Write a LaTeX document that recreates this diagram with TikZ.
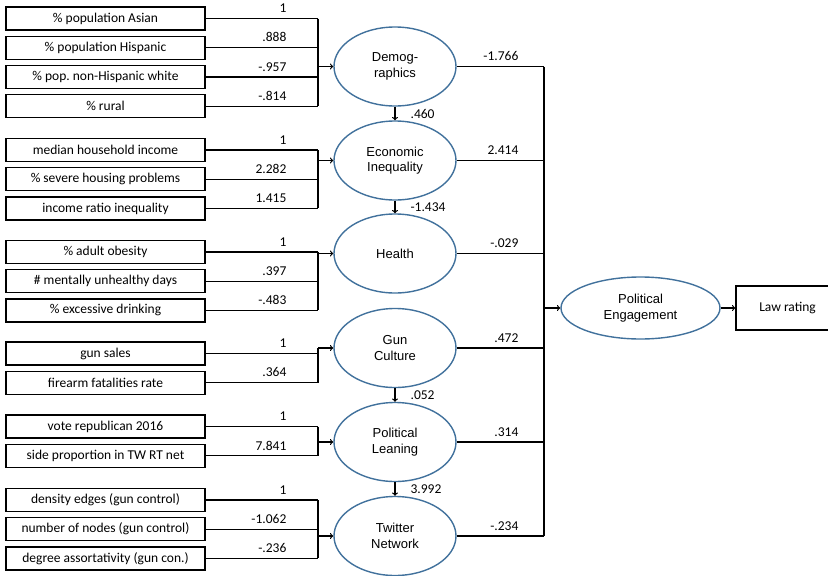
\documentclass[tikz,border=0pt]{standalone}
\usepackage{fontspec}
\newfontfamily\boxfont{Carlito}
\newfontfamily\latfont{Liberation Sans}
\usetikzlibrary{positioning}
\usetikzlibrary{shapes}
\definecolor{latblue}{RGB}{65,113,156}
\frenchspacing

\begin{document}
\begin{tikzpicture}[x=1pt, y=-1pt, line width=1.2pt,
  ind/.style={draw, rectangle, minimum width=199pt, minimum height=23pt, inner sep=0pt, font=\boxfont\fontsize{13.5}{16}\selectfont},
  lat/.style={draw=latblue, line width=1.4pt, ellipse, minimum width=122pt, minimum height=79pt, inner sep=0pt, align=center, font=\latfont\fontsize{13}{15.7}\selectfont},
  lw/.style={anchor=south east, inner sep=0pt, xshift=-31pt, yshift=5pt, font=\boxfont\fontsize{13.5}{16}\selectfont},
  rw/.style={lw, xshift=6pt},
  reg/.style={anchor=west, inner sep=0pt, xshift=15pt, font=\boxfont\fontsize{13.5}{16}\selectfont}]
\useasboundingbox (0,0) rectangle (828,576);
\coordinate (colL) at (318,0);
\coordinate (colR) at (544,0);

% indicators
\node[ind] (Dem1) at (105.5,18.5) {\% population Asian};
\node[ind] (Dem2) [below=5pt of Dem1] {\% population Hispanic};
\node[ind] (Dem3) [below=5pt of Dem2] {\% pop. non-Hispanic white};
\node[ind] (Dem4) [below=5pt of Dem3] {\% rural};
\node[ind] (Eco1) at (105.5,150) {median household income};
\node[ind] (Eco2) [below=5pt of Eco1] {\% severe housing problems};
\node[ind] (Eco3) [below=5pt of Eco2] {income ratio inequality};
\node[ind] (Hlth1) at (105.5,252) {\% adult obesity};
\node[ind] (Hlth2) [below=5pt of Hlth1] {\# mentally unhealthy days};
\node[ind] (Hlth3) [below=5pt of Hlth2] {\% excessive drinking};
\node[ind] (Gun1) at (105.5,353.5) {gun sales};
\node[ind] (Gun2) [below=5pt of Gun1] {firearm fatalities rate};
\node[ind] (PolL1) at (105.5,426.5) {vote republican 2016};
\node[ind] (PolL2) [below=5pt of PolL1] {side proportion in TW RT net};
\node[ind] (TW1) at (105.5,500) {density edges (gun control)};
\node[ind] (TW2) [below=5pt of TW1] {number of nodes (gun control)};
\node[ind] (TW3) [below=5pt of TW2] {degree assortativity (gun con.)};

% latent variables
\node[lat] (Dem) at (395,66.5) {Demog-\\raphics};
\node[lat] (Eco) at (395,160.5) {Economic\\Inequality};
\node[lat] (Hlth) at (395,253.5) {Health};
\node[lat] (Gun) at (395,348) {Gun\\Culture};
\node[lat] (PolL) at (395,442) {Political\\Leaning};
\node[lat] (TW) at (395,536) {Twitter\\Network};
\node[lat, minimum width=159pt, minimum height=62pt] (PE) at (640.5,308) {Political\\Engagement};
\node[draw, rectangle, minimum width=103pt, minimum height=44pt, font=\boxfont\fontsize{13.5}{16}\selectfont] (LR) at (787.5,308) {Law rating};

% loadings
\draw (Dem1.east) -- (Dem1.east -| colL) node[lw, pos=1] {1};
\draw (Dem2.east) -- (Dem2.east -| colL) node[lw, pos=1] {.888};
\draw (Dem3.east) -- (Dem3.east -| colL) node[lw, pos=1] {-.957};
\draw (Dem4.east) -- (Dem4.east -| colL) node[lw, pos=1] {-.814};
\draw (Dem1.east -| colL) -- (Dem4.east -| colL);
\draw[->] (Dem.west -| colL) -- (Dem.west);

\draw (Eco1.east) -- (Eco1.east -| colL) node[lw, pos=1] {1};
\draw (Eco2.east) -- (Eco2.east -| colL) node[lw, pos=1] {2.282};
\draw (Eco3.east) -- (Eco3.east -| colL) node[lw, pos=1] {1.415};
\draw (Eco1.east -| colL) -- (Eco3.east -| colL);
\draw[->] (Eco.west -| colL) -- (Eco.west);

\draw (Hlth1.east) -- (Hlth1.east -| colL) node[lw, pos=1] {1};
\draw (Hlth2.east) -- (Hlth2.east -| colL) node[lw, pos=1] {.397};
\draw (Hlth3.east) -- (Hlth3.east -| colL) node[lw, pos=1] {-.483};
\draw (Hlth1.east -| colL) -- (Hlth3.east -| colL);
\draw[->] (Hlth.west -| colL) -- (Hlth.west);

\draw (Gun1.east) -- (Gun1.east -| colL) node[lw, pos=1] {1};
\draw (Gun2.east) -- (Gun2.east -| colL) node[lw, pos=1] {.364};
\draw (Gun.west -| colL) -- (Gun2.east -| colL);
\draw[->] (Gun.west -| colL) -- (Gun.west);

\draw (PolL1.east) -- (PolL1.east -| colL) node[lw, pos=1] {1};
\draw (PolL2.east) -- (PolL2.east -| colL) node[lw, pos=1] {7.841};
\draw (PolL1.east -| colL) -- (PolL2.east -| colL);
\draw[->] (PolL.west -| colL) -- (PolL.west);

\draw (TW1.east) -- (TW1.east -| colL) node[lw, pos=1] {1};
\draw (TW2.east) -- (TW2.east -| colL) node[lw, pos=1] {-1.062};
\draw (TW3.east) -- (TW3.east -| colL) node[lw, pos=1] {-.236};
\draw (TW1.east -| colL) -- (TW3.east -| colL);
\draw[->] (TW.west -| colL) -- (TW.west);

% paths between latents
\draw[->] (Dem.south) -- (Eco.north) node[reg, midway] {.460};
\draw[->] (Eco.south) -- (Hlth.north) node[reg, midway] {-1.434};
\draw[->] (Gun.south) -- (PolL.north) node[reg, midway] {.052};
\draw[->] (PolL.south) -- (TW.north) node[reg, midway] {3.992};

% to political engagement
\draw (Dem.east) -- (Dem.east -| colR) node[rw, pos=1] {-1.766};
\draw (Eco.east) -- (Eco.east -| colR) node[rw, pos=1] {2.414};
\draw (Hlth.east) -- (Hlth.east -| colR) node[rw, pos=1] {-.029};
\draw (Gun.east) -- (Gun.east -| colR) node[rw, pos=1] {.472};
\draw (PolL.east) -- (PolL.east -| colR) node[rw, pos=1] {.314};
\draw (TW.east) -- (TW.east -| colR) node[rw, pos=1] {-.234};
\draw (Dem.east -| colR) -- (TW.east -| colR);
\draw[->] (PE.west -| colR) -- (PE.west);
\draw[->] (PE.east) -- (LR.west);
\end{tikzpicture}
\end{document}
